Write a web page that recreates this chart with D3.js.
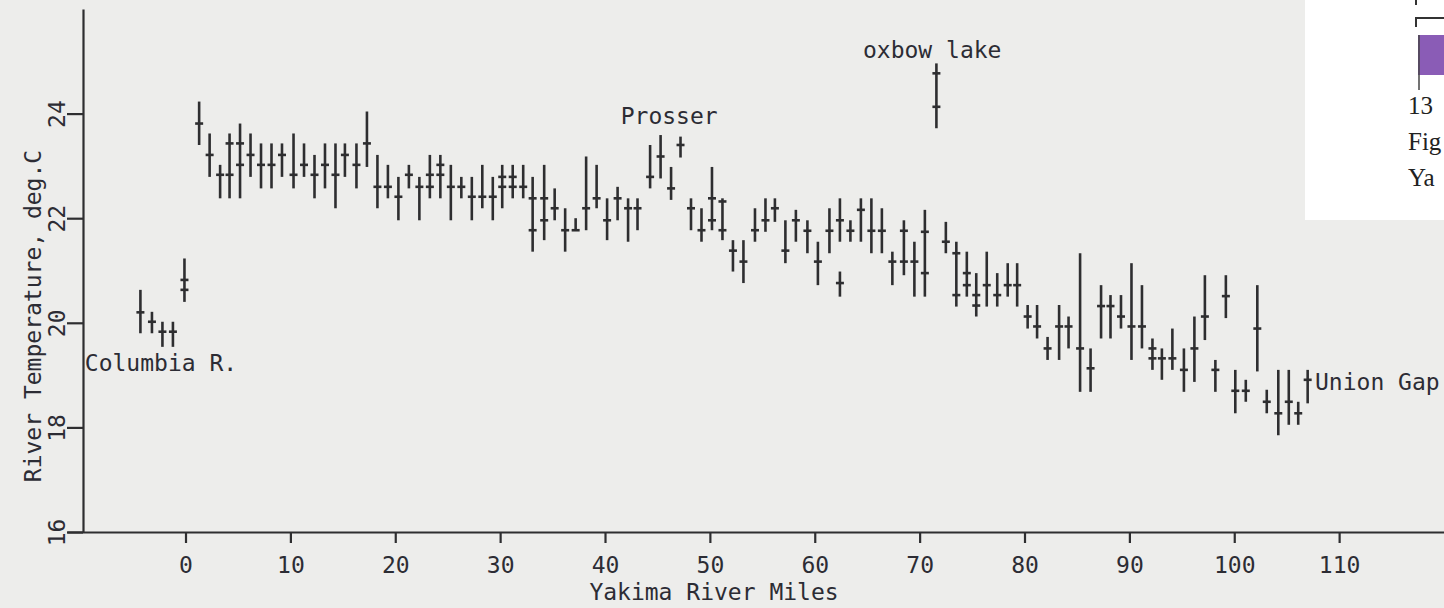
<!DOCTYPE html>
<html>
<head>
<meta charset="utf-8">
<script src="https://cdn.jsdelivr.net/npm/d3@7"></script>
<style>
  body { margin: 0; background: #ededeb; overflow: hidden; }
  svg text { font-family: "DejaVu Sans Mono", monospace; fill: #2c2c34; }
  svg text.serif { font-family: "Liberation Serif", serif; fill: #222; }
</style>
</head>
<body>
<script>

// station river miles, mean temperature, and low/high of the readings
const miles = [-4.3, -3.2, -2.2, -1.2, -0.1, 1.3, 2.3, 3.3, 4.2, 5.2, 6.2, 7.2, 8.2, 9.2, 10.3, 11.3, 12.3, 13.3, 14.3, 15.2,
  16.3, 17.3, 18.3, 19.3, 20.3, 21.3, 22.3, 23.3, 24.3, 25.3, 26.3, 27.3, 28.3, 29.3, 30.2, 31.2, 32.2, 33.1, 34.2, 35.2,
  36.2, 37.2, 38.2, 39.2, 40.2, 41.2, 42.2, 43.1, 44.3, 45.3, 46.3, 47.2, 48.2, 49.2, 50.2, 51.2, 52.2, 53.2, 54.3, 55.3,
  56.2, 57.2, 58.2, 59.3, 60.3, 61.4, 62.4, 62.4, 63.4, 64.4, 65.4, 66.4, 67.4, 68.5, 69.5, 70.5, 71.6, 72.5, 73.5, 74.5,
  75.4, 76.4, 77.4, 78.4, 79.3, 80.3, 81.2, 82.2, 83.3, 84.2, 85.3, 86.3, 87.3, 88.2, 89.2, 90.2, 91.2, 92.2, 93.1, 94.1,
  95.2, 96.2, 97.2, 98.2, 99.2, 100.1, 101.1, 102.2, 103.1, 104.2, 105.2, 106.1, 107.0];

const means = [20.20, 20.02, 19.83, 19.83, 20.82, 23.81, 23.21, 22.83, 23.43, 23.43, 23.21, 23.02, 23.02, 23.21, 22.83, 23.02, 22.83, 23.02, 22.83, 23.21,
  23.02, 23.43, 22.60, 22.60, 22.41, 22.83, 22.60, 22.83, 23.02, 22.60, 22.60, 22.41, 22.41, 22.41, 22.79, 22.79, 22.60, 22.38, 22.38, 22.19,
  21.77, 21.77, 22.19, 22.38, 21.96, 22.38, 22.19, 22.19, 22.79, 23.18, 22.57, 23.40, 22.19, 21.77, 22.38, 22.32, 21.38, 21.17, 21.77, 21.96,
  22.19, 21.38, 21.96, 21.76, 21.17, 21.76, 21.96, 20.76, 21.76, 22.16, 21.76, 21.76, 21.17, 21.76, 21.17, 21.74, 24.77, 21.55, 21.33, 20.95,
  20.53, 20.72, 20.53, 20.72, 20.72, 20.12, 19.93, 19.51, 19.93, 19.93, 19.51, 19.13, 20.32, 20.32, 20.12, 19.93, 19.93, 19.51, 19.32, 19.32,
  19.10, 19.51, 20.12, 19.10, 20.51, 18.70, 18.70, 19.89, 18.49, 18.27, 18.49, 18.27, 18.91];

const lows = [19.80, 19.80, 19.54, 19.54, 20.40, 23.40, 22.79, 22.38, 22.38, 22.38, 22.79, 22.57, 22.57, 22.79, 22.57, 22.79, 22.38, 22.57, 22.19, 22.79,
  22.57, 22.98, 22.19, 22.38, 21.96, 22.57, 21.96, 22.38, 22.38, 21.96, 22.38, 21.96, 22.19, 21.96, 22.19, 22.38, 22.38, 21.36, 21.58, 21.96,
  21.36, 21.77, 21.77, 22.19, 21.58, 21.96, 21.55, 21.77, 22.57, 22.76, 22.35, 23.16, 21.77, 21.55, 21.77, 21.58, 20.98, 20.76, 21.55, 21.74,
  21.93, 21.14, 21.55, 21.33, 20.72, 21.33, 21.55, 20.50, 21.55, 21.55, 21.33, 21.33, 20.72, 20.91, 20.50, 20.50, 23.72, 21.33, 20.31, 20.50,
  20.12, 20.31, 20.31, 20.50, 20.31, 19.89, 19.70, 19.29, 19.29, 19.51, 18.68, 18.68, 19.70, 19.70, 19.89, 19.29, 19.51, 19.10, 18.91, 19.10,
  18.68, 18.87, 19.67, 18.68, 20.09, 18.27, 18.49, 19.07, 18.27, 17.85, 18.05, 18.05, 18.46];

const highs = [20.63, 20.21, 20.02, 20.02, 21.23, 24.23, 23.62, 23.02, 23.62, 23.81, 23.62, 23.43, 23.43, 23.43, 23.62, 23.43, 23.21, 23.43, 23.43, 23.43,
  23.43, 24.04, 23.21, 23.02, 22.79, 23.02, 22.79, 23.21, 23.21, 23.02, 22.79, 22.79, 23.02, 22.79, 23.02, 23.02, 23.02, 22.79, 23.02, 22.57,
  22.19, 22.00, 23.18, 23.02, 22.38, 22.60, 22.38, 22.38, 23.40, 23.59, 22.98, 23.56, 22.38, 22.19, 22.98, 22.38, 21.58, 21.58, 22.19, 22.38,
  22.38, 21.96, 22.16, 21.96, 21.55, 22.19, 22.38, 20.98, 21.96, 22.38, 22.38, 22.19, 21.36, 21.96, 21.55, 22.16, 24.96, 21.93, 21.55, 21.36,
  20.95, 21.36, 20.95, 21.14, 21.14, 20.34, 20.34, 19.73, 20.34, 20.12, 21.33, 19.51, 20.72, 20.53, 20.53, 21.14, 20.72, 19.70, 19.51, 19.89,
  19.51, 20.12, 20.91, 19.29, 20.91, 19.10, 18.91, 20.72, 18.72, 19.10, 19.10, 18.49, 19.10];

// second reading at some stations (tick mark only)
const extraMiles = [-0.1, 4.2, 5.2, 23.3, 24.3, 30.2, 31.2, 33.1, 34.2, 50.2, 51.2, 68.5, 70.5, 71.6, 73.5, 74.5, 75.4, 92.2];
const extraMeans = [20.63, 22.83, 23.02, 22.60, 22.83, 22.60, 22.60, 21.77, 21.96, 21.96, 21.77, 21.17, 20.95, 24.13, 20.53, 20.72, 20.33, 19.32];

const mileTicks = [0, 10, 20, 30, 40, 50, 60, 70, 80, 90, 100, 110];
const tempTicks = [16, 18, 20, 22, 24];

const notes = [
  { text: "Columbia R.", mile: -9.6, temp: 19.08 },
  { text: "Prosser", mile: 41.5, temp: 23.8 },
  { text: "oxbow lake", mile: 64.6, temp: 25.06 },
  { text: "Union Gap", mile: 107.7, temp: 18.72 }
];

let width = 1444, height = 608;

let svg = d3.select("body")
  .append("svg")
    .attr("width", width)
    .attr("height", height);

let x = d3.scaleLinear().domain([-11.3, 120]).range([67, 1444]);
let y = d3.scaleLinear().domain([16, 26]).range([532, 9]);

let ink = "#2e2e30";

// AXES

let xAxis = svg.append("g")
    .attr("transform", "translate(0,532)")
    .call(d3.axisBottom(x).tickValues(mileTicks).tickSize(11).tickSizeOuter(0).tickPadding(14));

let yAxis = svg.append("g")
    .attr("transform", "translate(83,0)")
    .call(d3.axisLeft(y).tickValues(tempTicks).tickSize(16).tickSizeOuter(0));

[xAxis, yAxis].forEach(a => {
  a.selectAll("path, line").attr("stroke", ink).attr("stroke-width", 2.2);
  a.selectAll("text").attr("font-size", 23);
});

yAxis.selectAll(".tick text")
    .attr("transform", "rotate(-90)")
    .attr("x", 0)
    .attr("y", -18)
    .attr("dy", 0)
    .attr("text-anchor", "middle");

svg.append("text")
    .attr("x", 714)
    .attr("y", 600)
    .attr("text-anchor", "middle")
    .attr("font-size", 23)
    .text("Yakima River Miles");

svg.append("text")
    .attr("transform", "translate(41,316) rotate(-90)")
    .attr("text-anchor", "middle")
    .attr("font-size", 23)
    .text("River Temperature, deg.C");

// ERROR BARS

let stations = miles.map((m, i) => ({ mile: m, mean: means[i], lo: lows[i], hi: highs[i] }));
let extras = extraMiles.map((m, i) => ({ mile: m, mean: extraMeans[i] }));

let bars = svg.append("g");

bars.selectAll("line.range")
  .data(stations)
  .enter().append("line")
    .attr("class", "range")
    .attr("x1", d => x(d.mile))
    .attr("x2", d => x(d.mile))
    .attr("y1", d => y(d.lo))
    .attr("y2", d => y(d.hi))
    .attr("stroke", ink)
    .attr("stroke-width", 2.6);

bars.selectAll("line.mean")
  .data(stations.concat(extras))
  .enter().append("line")
    .attr("class", "mean")
    .attr("x1", d => x(d.mile) - 4)
    .attr("x2", d => x(d.mile) + 4)
    .attr("y1", d => y(d.mean))
    .attr("y2", d => y(d.mean))
    .attr("stroke", ink)
    .attr("stroke-width", 2.6);

// LABELS

svg.selectAll("text.note")
  .data(notes)
  .enter().append("text")
    .attr("class", "note")
    .attr("x", d => x(d.mile))
    .attr("y", d => y(d.temp))
    .attr("font-size", 23)
    .text(d => d.text);

// corner of the neighbouring figure on the scanned page
let inset = svg.append("g");
inset.append("rect").attr("x", 1305).attr("y", 0).attr("width", 139).attr("height", 220).attr("fill", "#ffffff");
inset.append("path").attr("d", "M1416,0V5M1416,27V18H1444").attr("fill", "none").attr("stroke", "#333").attr("stroke-width", 2);
inset.append("rect").attr("x", 1418).attr("y", 35).attr("width", 26).attr("height", 40).attr("fill", "#8a5cb6");
inset.append("line").attr("x1", 1419).attr("x2", 1419).attr("y1", 35).attr("y2", 90).attr("stroke", "#444").attr("stroke-width", 1.5);
[["13", 114], ["Fig", 150], ["Ya", 186]].forEach(t => {
  inset.append("text")
      .attr("class", "serif")
      .attr("x", 1408)
      .attr("y", t[1])
      .attr("font-size", 25)
      .text(t[0]);
});

</script>
</body>
</html>
